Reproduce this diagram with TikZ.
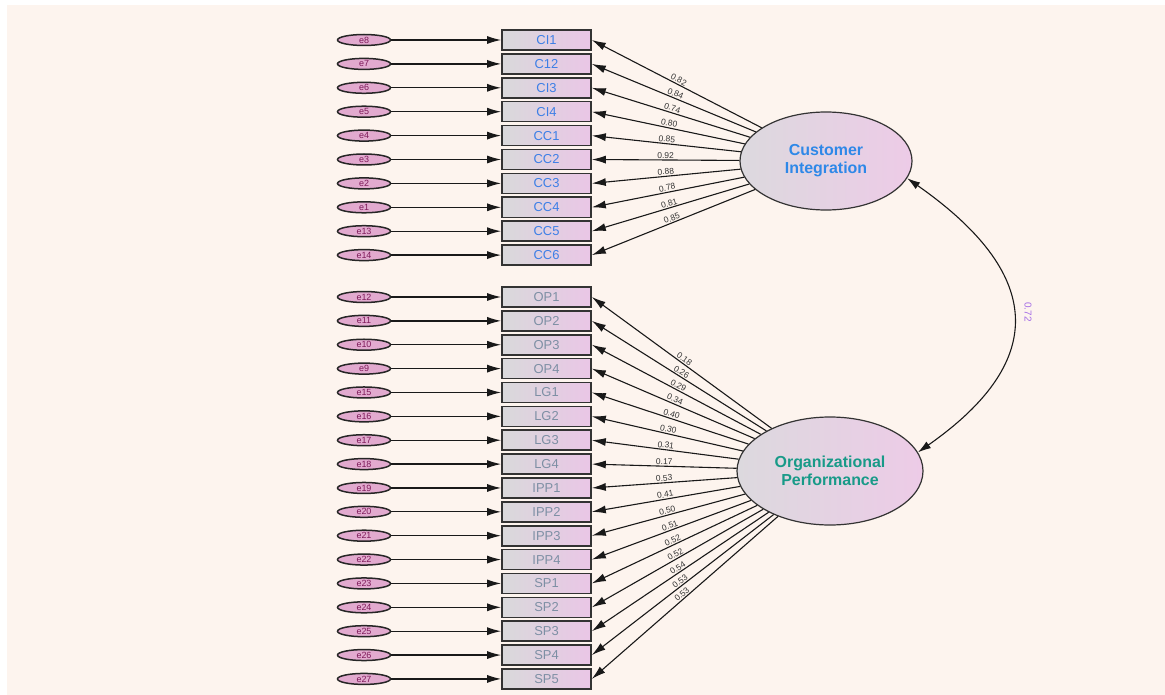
\documentclass[tikz,border=0pt]{standalone}
\usepackage{fontspec}
\setmainfont{Liberation Sans}
\usetikzlibrary{arrows.meta}
\usetikzlibrary{shapes.geometric}

\definecolor{bgpeach}{HTML}{FDF4EE}
\definecolor{boxgray}{HTML}{D9D9DB}
\definecolor{boxpink}{HTML}{EAC6E6}
\definecolor{latgray}{HTML}{DCD9DE}
\definecolor{latpink}{HTML}{EDCBE7}
\definecolor{errpink}{HTML}{E2AACF}
\definecolor{errtext}{HTML}{7E1A5A}
\definecolor{citext}{HTML}{3D7FE6}
\definecolor{optext}{HTML}{7D8FA4}
\definecolor{cilat}{HTML}{2E88E8}
\definecolor{oplat}{HTML}{189A88}
\definecolor{covtext}{HTML}{A46BE6}

\begin{document}
\begin{tikzpicture}[x=1bp,y=-1bp,
	obs/.style={draw=black!80,line width=1.6bp,minimum width=89bp,minimum height=20bp,
		inner sep=0pt,left color=boxgray,right color=boxpink,font=\fontsize{13}{13}\selectfont},
	err/.style={ellipse,draw=black!85,line width=1.5bp,minimum width=53bp,minimum height=11bp,
		inner sep=0pt,fill=errpink,text=errtext,font=\fontsize{9}{9}\selectfont},
	lat/.style={ellipse,draw=black!80,line width=1.2bp,left color=latgray,right color=latpink,
		inner sep=0pt,align=center,font=\bfseries\fontsize{16}{18}\selectfont},
	load/.style={midway,sloped,above,inner sep=1bp,text=black!80,font=\fontsize{8.5}{8.5}\selectfont},
	fwd/.style={-{Latex[length=14bp,width=8bp]},line width=1.3bp,draw=black!90},
	bwd/.style={{Latex[length=14bp,width=8bp]}-,line width=1.1bp,draw=black!90}]
\useasboundingbox (0,0) rectangle (1165,695);
\fill[white] (0,0) rectangle (1165,695);
\fill[bgpeach] (7,5) rectangle (1165,695);
% latent variables
\node[lat,text=cilat,minimum width=172bp,minimum height=98bp] (CI) at (826,161) {Customer\\Integration};
\node[lat,text=oplat,minimum width=186bp,minimum height=108bp] (OP) at (830,471) {Organizational\\Performance};
% customer integration items
\foreach \e/\t/\l [count=\i] in {e8/CI1/0.82,e7/C12/0.84,e6/CI3/0.74,e5/CI4/0.80,e4/CC1/0.85,
	e3/CC2/0.92,e2/CC3/0.88,e1/CC4/0.78,e13/CC5/0.81,e14/CC6/0.85}{
	\node[obs,text=citext] (ci\i) at (546.5,{40+23.9*(\i-1)}) {\t};
	\node[err] (\e) at (364,{40+23.9*(\i-1)}) {\e};
	\draw[fwd] (\e) -- (ci\i);
	\draw[bwd] (ci\i.east) -- (CI) node[load] {\l};
}
% organizational performance items
\foreach \e/\t/\l [count=\i] in {e12/OP1/0.18,e11/OP2/0.26,e10/OP3/0.29,e9/OP4/0.34,
	e15/LG1/0.40,e16/LG2/0.30,e17/LG3/0.31,e18/LG4/0.17,e19/IPP1/0.53,e20/IPP2/0.41,
	e21/IPP3/0.50,e22/IPP4/0.51,e23/SP1/0.52,e24/SP2/0.52,e25/SP3/0.54,e26/SP4/0.53,e27/SP5/0.53}{
	\node[obs,text=optext] (op\i) at (546.5,{297+23.87*(\i-1)}) {\t};
	\node[err] (\e) at (364,{297+23.87*(\i-1)}) {\e};
	\draw[fwd] (\e) -- (op\i);
	\draw[bwd] (op\i.east) -- (OP) node[load] {\l};
}
% covariance
\draw[{Latex[length=13bp,width=8bp]}-{Latex[length=13bp,width=8bp]},line width=1.1bp,draw=black!90]
	(CI.-12) to[out=-35,in=35,looseness=1.52] (OP.12);
\node[text=covtext,rotate=-90,font=\fontsize{10}{10}\selectfont] (cov) at (1028,312) {0.72};
\end{tikzpicture}
\end{document}
